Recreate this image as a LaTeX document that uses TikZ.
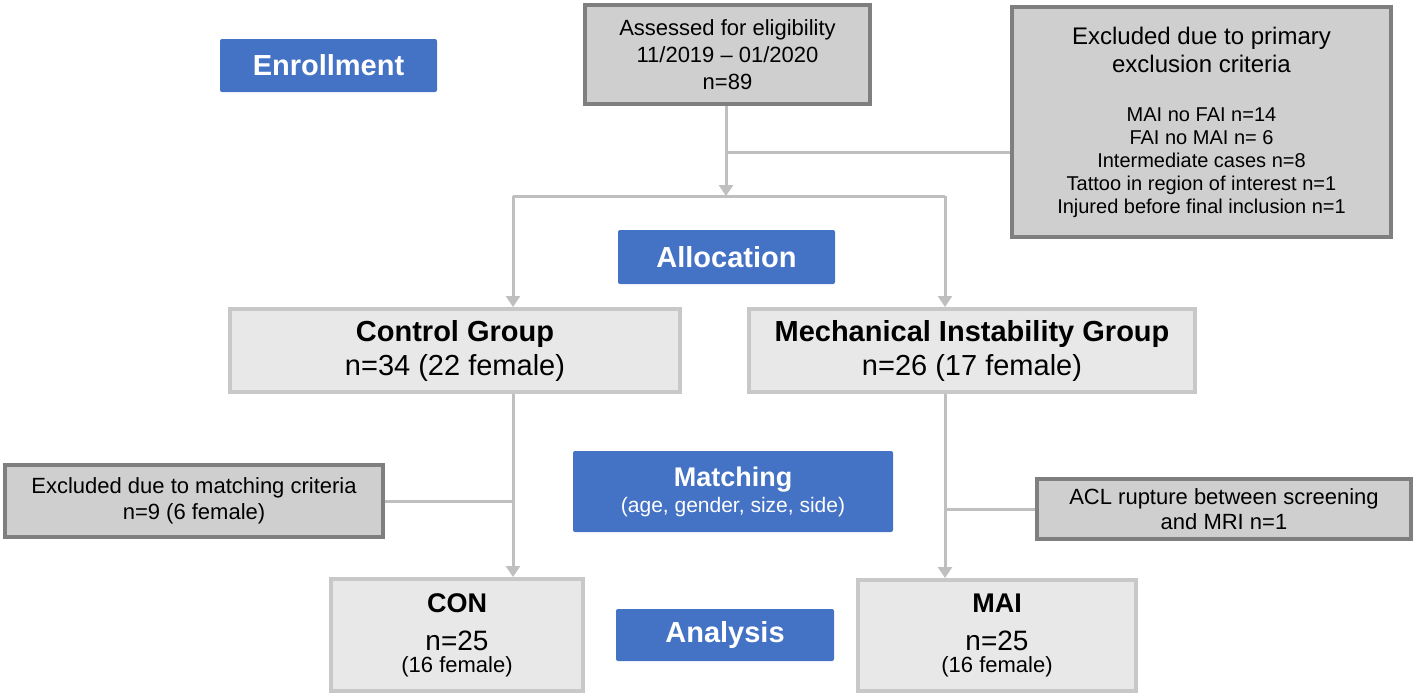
\documentclass[tikz,border=0pt]{standalone}
\usepackage{fontspec}
\setmainfont{Liberation Sans}
\usetikzlibrary{arrows.meta}
\definecolor{blu}{HTML}{4472C4}
\definecolor{dkfill}{HTML}{CFCFCF}
\definecolor{dkline}{HTML}{7F7F7F}
\definecolor{ltfill}{HTML}{E8E8E8}
\definecolor{ltline}{HTML}{C8C8C8}
\definecolor{connc}{HTML}{BFBFBF}
\begin{document}
\begin{tikzpicture}[x=1pt,y=-1pt,
  phase/.style={fill=blu,rounded corners=2pt,text=white,inner sep=0pt,align=center,
    font=\fontsize{29}{32}\selectfont\bfseries},
  darkbox/.style={draw=dkline,fill=dkfill,line width=4pt,inner sep=0pt,align=center,
    font=\fontsize{22}{27}\selectfont},
  lightbox/.style={draw=ltline,fill=ltfill,line width=4pt,inner sep=0pt,align=center},
  conn/.style={draw=connc,line width=3pt},
  arr/.style={conn,-{Triangle[width=14pt,length=11pt]}},
]
\useasboundingbox (0,0) rectangle (1418,696);

% phase labels
\node[phase,minimum width=217pt,minimum height=53pt] (enroll) at (328.5,65.5) {Enrollment};
\node[phase,minimum width=217pt,minimum height=54pt] (alloc) at (726.5,257) {Allocation};
\node[phase,minimum width=320pt,minimum height=81pt,font=\fontsize{27}{26}\selectfont] (match) at (733,491.5)
  {\bfseries Matching\\ \fontsize{21}{26}\selectfont (age, gender, size, side)};
\node[phase,minimum width=218pt,minimum height=52pt] (analysis) at (725,635) {Analysis};

% dark boxes
\node[darkbox,minimum width=285pt,minimum height=99pt] (assess) at (727.5,54.5)
  {Assessed for eligibility\\11/2019 -- 01/2020\\n=89};
\node[darkbox,minimum width=379pt,minimum height=230pt,font=\fontsize{20}{23}\selectfont] (primary) at (1201.5,122)
  {\fontsize{24}{28}\selectfont Excluded due to primary\\[5pt]
   \fontsize{24}{28}\selectfont exclusion criteria\\[26pt]
   MAI no FAI n=14\\
   FAI no MAI n= 6\\
   Intermediate cases n=8\\
   Tattoo in region of interest n=1\\
   Injured before final inclusion n=1};
\node[darkbox,minimum width=378pt,minimum height=72pt,font=\fontsize{22}{26}\selectfont] (exmatch) at (194,501)
  {Excluded due to matching criteria\\n=9 (6 female)};
\node[darkbox,minimum width=374pt,minimum height=60pt,font=\fontsize{22}{25}\selectfont] (acl) at (1224,509)
  {ACL rupture between screening\\and MRI n=1};

% light boxes
\node[lightbox,minimum width=450pt,minimum height=83pt,font=\fontsize{29}{34}\selectfont] (control) at (455,350.5)
  {\bfseries Control Group\\n=34 (22 female)};
\node[lightbox,minimum width=446pt,minimum height=83pt,font=\fontsize{29}{34}\selectfont] (mech) at (972,350.5)
  {\bfseries Mechanical Instability Group\\n=26 (17 female)};
\node[lightbox,minimum width=252pt,minimum height=112pt,font=\fontsize{28}{38}\selectfont] (con) at (457,635)
  {\fontsize{27}{38}\selectfont\bfseries CON\\n=25\\[-16pt] \fontsize{22}{26}\selectfont (16 female)};
\node[lightbox,minimum width=278pt,minimum height=111pt,font=\fontsize{28}{38}\selectfont] (mai) at (997,635.5)
  {\fontsize{27}{38}\selectfont\bfseries MAI\\n=25\\[-16pt] \fontsize{22}{26}\selectfont (16 female)};

% connector coordinates
\coordinate (split) at (726,196);
\coordinate (brA) at (726,152);
\coordinate (cL) at (513,196);
\coordinate (cR) at (945,196);

\draw[arr] (assess.south -| split) -- (split);
\draw[conn] (brA) -- (brA -| primary.west);
\draw[conn] (cL) -- (cR);
\draw[arr] (cL) -- (cL |- control.north);
\draw[arr] (cR) -- (cR |- mech.north);
\draw[arr] (control.south -| cL) -- (cL |- con.north);
\draw[arr] (mech.south -| cR) -- (cR |- mai.north);
\draw[conn] (exmatch.east) -- (exmatch.east -| cL);
\draw[conn] (acl.west) -- (acl.west -| cR);
\end{tikzpicture}
\end{document}
